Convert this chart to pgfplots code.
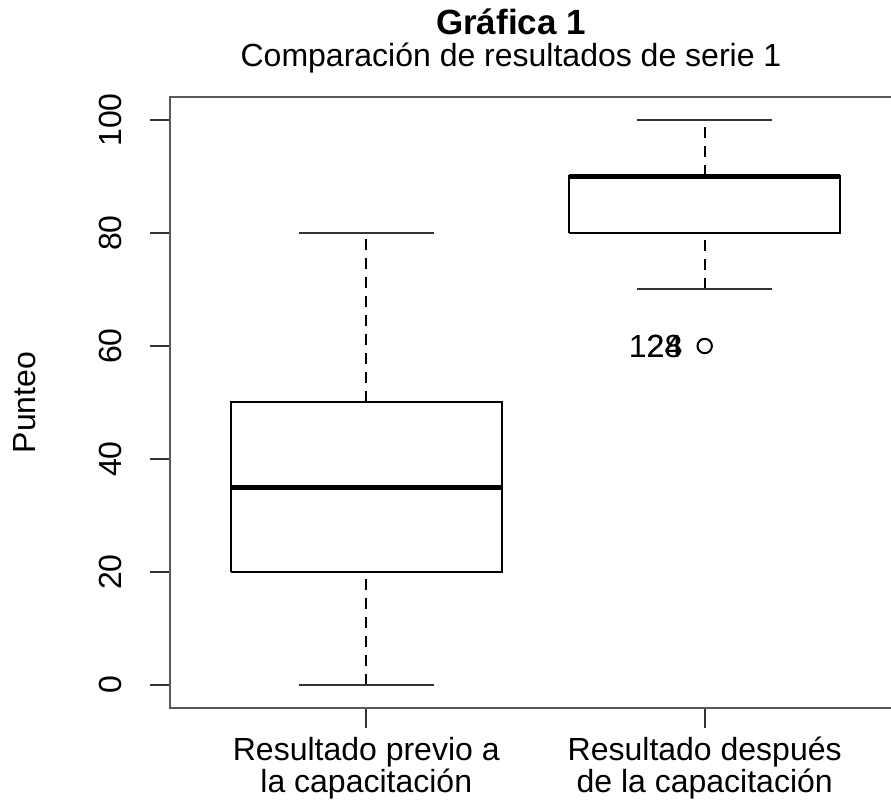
\documentclass[border=0pt]{standalone}
\usepackage{pgfplots}
\pgfplotsset{compat=1.18}
\usepackage{fontspec}
\setmainfont{Liberation Sans}
\usetikzlibrary{calc}
\begin{document}
\begin{tikzpicture}
\begin{axis}[
  name=ax,
  at={(0,0)}, anchor=south west,
  scale only axis,
  width=365.5pt, height=305.5pt,
  xmin=0.42, xmax=2.58,
  ymin=-4.07, ymax=104.07,
  axis line style={black!65, line width=1.1pt},
  tick style={black!80, line width=1pt},
  tick align=outside,
  xtick pos=bottom, ytick pos=left,
  major tick length=10pt,
  xtick={1,2},
  xticklabels={{\rule{0pt}{12pt}Resultado previo a\\la capacitación},{\rule{0pt}{12pt}Resultado después\\de la capacitación}},
  xticklabel style={align=center, anchor=north, inner sep=0pt, font=\fontsize{16}{15}\selectfont},
  ytick={0,20,40,60,80,100},
  yticklabel style={rotate=90, anchor=base, inner sep=0pt, font=\fontsize{16}{19}\selectfont},
  /pgf/number format/assume math mode=true,
  xticklabel shift=4pt,
  yticklabel shift=14pt,
  clip=false,
]
% box 1
\addplot[black, line width=1pt, line join=miter] coordinates {(0.6,20) (1.4,20) (1.4,50) (0.6,50) (0.6,20)};
\addplot[black, line width=2.6pt] coordinates {(0.6,35) (1.4,35)};
\addplot[black, line width=1pt, dash pattern=on 5.5pt off 4pt] coordinates {(1,0) (1,20)};
\addplot[black, line width=1pt, dash pattern=on 5.5pt off 4pt] coordinates {(1,50) (1,80)};
\addplot[black!80, line width=1pt] coordinates {(0.8,0) (1.2,0)};
\addplot[black!80, line width=1pt] coordinates {(0.8,80) (1.2,80)};
% box 2
\addplot[black, line width=1pt, line join=miter] coordinates {(1.6,80) (2.4,80) (2.4,90) (1.6,90) (1.6,80)};
\addplot[black, line width=2.6pt] coordinates {(1.6,90) (2.4,90)};
\addplot[black, line width=1pt, dash pattern=on 5.5pt off 4pt] coordinates {(2,70) (2,80)};
\addplot[black, line width=1pt, dash pattern=on 5.5pt off 4pt] coordinates {(2,90) (2,100)};
\addplot[black!80, line width=1pt] coordinates {(1.8,70) (2.2,70)};
\addplot[black!80, line width=1pt] coordinates {(1.8,100) (2.2,100)};
% outlier
\addplot[only marks, mark=o, mark size=3.6pt, mark options={black, line width=1pt}] coordinates {(2,60)};
\node[anchor=east, inner sep=0pt, font=\fontsize{16}{19}\selectfont] at (axis cs:2,60) [xshift=-11pt] {128};
\node[anchor=east, inner sep=0pt, font=\fontsize{16}{19}\selectfont] at (axis cs:2,60) [xshift=-11pt] {24};
\end{axis}
\node[anchor=base, font=\bfseries\fontsize{17.5}{20}\selectfont] at ($(ax.south west)+(170.5pt,336.5pt)$) {Gráfica 1};
\node[anchor=base, font=\fontsize{16}{19}\selectfont] at ($(ax.south west)+(170.5pt,320.5pt)$) {Comparación de resultados de serie 1};
\node[anchor=base, rotate=90, font=\fontsize{16}{19}\selectfont] at ($(ax.south west)+(-67pt,152.75pt)$) {Punteo};
\pgfresetboundingbox
\useasboundingbox ($(ax.south west)+(-85pt,-48pt)$) rectangle ($(ax.south west)+(360.5pt,354pt)$);
\end{tikzpicture}
\end{document}
